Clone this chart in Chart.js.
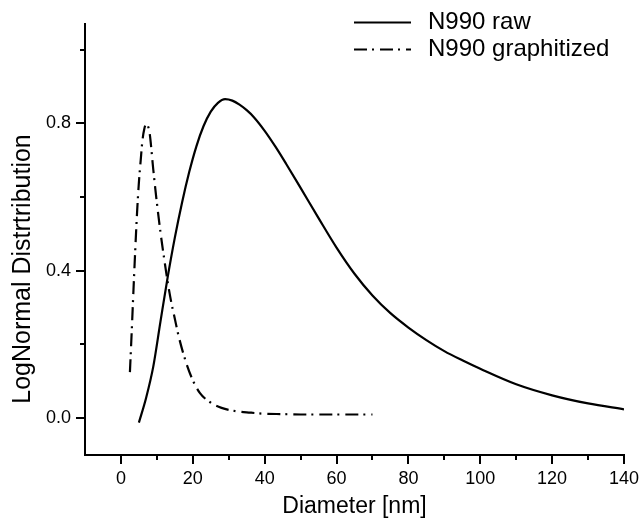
<!DOCTYPE html>
<html><head><meta charset="utf-8">
<script src="https://cdn.jsdelivr.net/npm/chart.js@4"></script>
<style>html,body{margin:0;padding:0;background:#fff;}canvas{display:block;}</style>
</head><body>
<canvas id="c" width="643" height="522"></canvas>
<script>
// ---- data ----
const seriesLabels = ['N990 raw', 'N990 graphitized'];
const rawX = [5, 7, 9, 11, 13, 15, 17, 19, 21, 23, 25, 27, 29, 31, 33, 35, 37, 40, 43, 46, 50, 55, 60, 65, 70, 75, 80, 85, 90, 95, 100, 110, 120, 130, 140];
const rawY = [-0.012, 0.055, 0.140, 0.262, 0.382, 0.490, 0.585, 0.668, 0.738, 0.793, 0.832, 0.856, 0.866, 0.862, 0.851, 0.836, 0.817, 0.780, 0.737, 0.690, 0.625, 0.543, 0.463, 0.392, 0.333, 0.285, 0.246, 0.212, 0.182, 0.157, 0.134, 0.092, 0.062, 0.040, 0.024];
const graphX = [2.5, 3, 3.5, 4, 4.5, 5, 5.5, 6, 6.5, 7, 7.5, 8, 9, 10, 11, 12, 13, 14, 15, 16, 18, 20, 22, 25, 28, 32, 36, 40, 45, 50, 55, 60, 65, 70];
const graphY = [0.125, 0.235, 0.35, 0.46, 0.56, 0.64, 0.70, 0.755, 0.785, 0.798, 0.793, 0.773, 0.675, 0.585, 0.505, 0.435, 0.37, 0.315, 0.27, 0.225, 0.155, 0.103, 0.068, 0.042, 0.028, 0.019, 0.015, 0.012, 0.011, 0.010, 0.010, 0.010, 0.010, 0.010];
const xMinorTicks = [10, 30, 50, 70, 90, 110, 130];
const yMinorTicks = [0.2, 0.6, 1.0];
const xAxisTitle = 'Diameter [nm]';
const yAxisTitle = 'LogNormal Distrtribution';

const FONT = '"Liberation Sans", Arial, sans-serif';
Chart.defaults.color = '#000';
Chart.defaults.font.family = FONT;

const toPts = (xs, ys) => xs.map((x, i) => ({x, y: ys[i]}));

const minorTickPlugin = {
  id: 'minorTicks',
  afterDraw(chart) {
    const ctx = chart.ctx, xs = chart.scales.x, ys = chart.scales.y;
    const a = chart.chartArea;
    ctx.save();
    ctx.strokeStyle = '#000';
    ctx.lineWidth = 2;
    ctx.beginPath();
    xMinorTicks.forEach(v => { const p = Math.round(xs.getPixelForValue(v)); ctx.moveTo(p, a.bottom); ctx.lineTo(p, a.bottom + 5); });
    yMinorTicks.forEach(v => { const p = Math.round(ys.getPixelForValue(v)); ctx.moveTo(a.left - 5, p); ctx.lineTo(a.left, p); });
    ctx.stroke();
    // y axis title
    ctx.fillStyle = '#000';
    ctx.font = '25px ' + FONT;
    ctx.textAlign = 'center';
    ctx.textBaseline = 'middle';
    ctx.translate(23, 269);
    ctx.rotate(-Math.PI / 2);
    ctx.fillText(yAxisTitle, 0, 0);
    ctx.restore();
  }
};

const legendPlugin = {
  id: 'innerLegend',
  afterDraw(chart) {
    const ctx = chart.ctx;
    const rows = [22.5, 49.5];
    ctx.save();
    chart.data.datasets.forEach((ds, i) => {
      const y = rows[i];
      ctx.strokeStyle = '#000';
      ctx.lineWidth = 2;
      ctx.setLineDash(ds.borderDash || []);
      ctx.beginPath();
      ctx.moveTo(354, y); ctx.lineTo(411, y);
      ctx.stroke();
      ctx.setLineDash([]);
      ctx.fillStyle = '#000';
      ctx.font = '24px ' + FONT;
      ctx.textAlign = 'left';
      ctx.textBaseline = 'middle';
      ctx.fillText(ds.label, 428, y);
    });
    ctx.restore();
  }
};

new Chart(document.getElementById('c'), {
  type: 'line',
  data: {
    datasets: [
      { label: seriesLabels[0], data: toPts(rawX, rawY), borderColor: '#000', borderWidth: 2.2, pointRadius: 0, cubicInterpolationMode: 'monotone', fill: false },
      { label: seriesLabels[1], data: toPts(graphX, graphY), borderColor: '#000', borderWidth: 2.2, borderDash: [13, 5, 2, 6], pointRadius: 0, cubicInterpolationMode: 'monotone', fill: false }
    ]
  },
  options: {
    responsive: false,
    animation: false,
    devicePixelRatio: 1,
    layout: { padding: { left: 0, top: 24, right: 15, bottom: 0 } },
    plugins: { legend: { display: false }, tooltip: { enabled: false } },
    scales: {
      x: {
        type: 'linear', min: -10, max: 140,
        border: { display: true, color: '#000', width: 2 },
        grid: { display: true, drawOnChartArea: false, drawTicks: true, tickLength: 9, color: '#000', lineWidth: 2 },
        ticks: { stepSize: 20, includeBounds: false, autoSkip: false, maxRotation: 0, padding: 4, font: { size: 18 }, color: '#000' },
        title: { display: true, text: xAxisTitle, font: { size: 23 }, padding: { top: 0, bottom: 2 }, color: '#000' },
        afterFit(s) { s.height = 67; }
      },
      y: {
        type: 'linear', min: -0.1, max: 1.07,
        border: { display: true, color: '#000', width: 2 },
        grid: { display: true, drawOnChartArea: false, drawTicks: true, tickLength: 9, color: '#000', lineWidth: 2 },
        ticks: { stepSize: 0.4, includeBounds: false, padding: 5, font: { size: 18 }, color: '#000', callback: v => Number(v).toFixed(1) },
        afterFit(s) { s.width = 85; }
      }
    }
  },
  plugins: [minorTickPlugin, legendPlugin]
});
</script>
</body></html>
